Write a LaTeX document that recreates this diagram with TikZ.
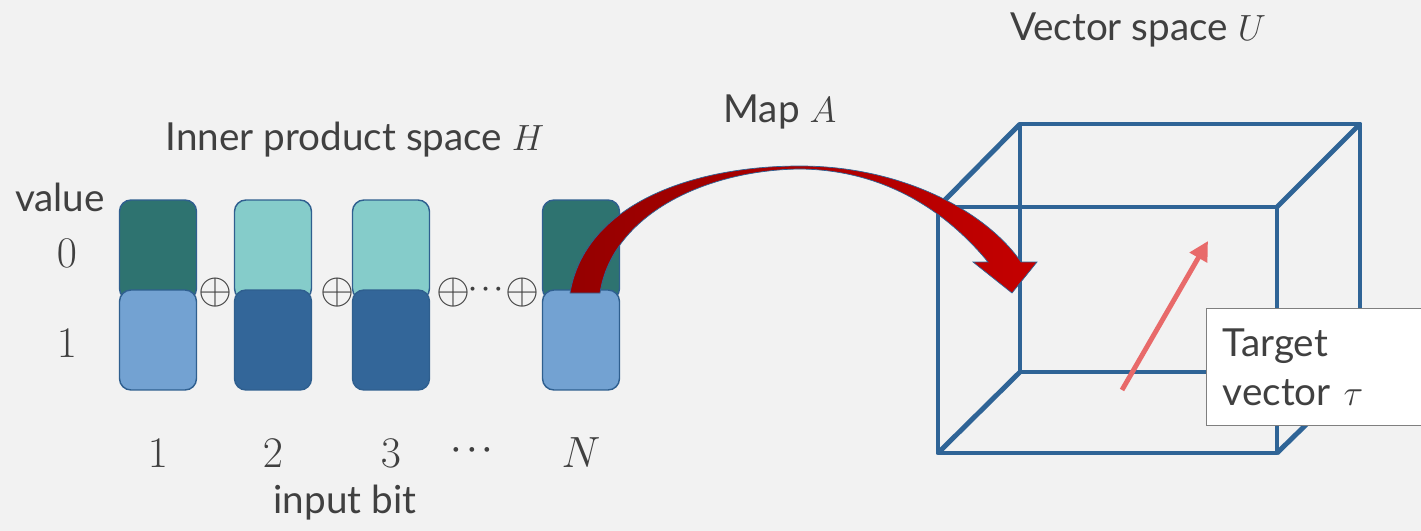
\documentclass[tikz,border=0pt]{standalone}
\usepackage{fontspec}
\setmainfont{Lato}
\usepackage{amsmath}
\usetikzlibrary{arrows.meta,positioning,calc}
\definecolor{bgcol}{HTML}{F2F2F2}
\definecolor{darktext}{HTML}{404040}
\definecolor{tealdark}{HTML}{2E7370}
\definecolor{teallight}{HTML}{85CCCA}
\definecolor{bluelight}{HTML}{73A2D2}
\definecolor{bluedark}{HTML}{336699}
\definecolor{celledge}{HTML}{2F5F8F}
\definecolor{cubeline}{HTML}{2F6496}
\definecolor{vecred}{HTML}{E86A6A}
\definecolor{mapred}{HTML}{C40000}
\definecolor{mapdark}{HTML}{950000}
\definecolor{boxedge}{HTML}{7F7F7F}

\begin{document}
\begin{tikzpicture}[
  x=0.02cm, y=-0.02cm,
  cell/.style={rectangle, rounded corners=6.5pt, draw=celledge, line width=0.8pt,
               minimum width=1.54cm, minimum height=2cm},
  lbl/.style={font=\fontsize{22}{28}\selectfont, text=darktext, inner sep=0pt},
  num/.style={lbl, font=\fontsize{25}{30}\selectfont},
  op/.style={lbl, font=\fontsize{30}{30}\selectfont},
  dots/.style={lbl, font=\fontsize{19}{19}\selectfont\boldmath},
  edge/.style={draw=cubeline, line width=2.8pt, line join=round},
  vec/.style={-{Triangle[length=11pt,width=11pt]}, draw=vecred, line width=2.8pt},
  tag/.style={rectangle, draw=boxedge, fill=white, line width=0.8pt,
              minimum height=2.34cm, text width=4.1cm, align=left,
              inner xsep=0.32cm, font=\fontsize{22}{28}\selectfont, text=darktext},
]
  \useasboundingbox[fill=bgcol] (0,0) rectangle (1421,531);

  % bit columns
  \foreach \x/\tc/\bc/\n [count=\i] in {158/tealdark/bluelight/1, 273/teallight/bluedark/2,
                                        391/teallight/bluedark/3, 581/tealdark/bluelight/N}{
    \node[cell, fill=\tc] (top\i) at (\x,250) {};
    \node[cell, fill=\bc] (bot\i) at (\x,340) {};
    \node[num] (bit\i) at (\x,453) {$\n$};
  }
  \foreach \x [count=\i] in {215,337,453,522}
    \node[op] (op\i) at (\x,293) {$\oplus$};
  \node[dots, font=\fontsize{14}{14}\selectfont\boldmath] (opdots) at (488,290) {$\cdots$};
  \node[dots] (bitdots) at (475,450) {$\cdots$};

  \node[lbl] (value) at (60,197) {value};
  \node[num] (zero) at (67,253) {$0$};
  \node[num] (one) at (67,343) {$1$};
  \node[lbl] (inner) at (355,140) {Inner product space $H$};
  \node[lbl] (inbit) at (345,503) {input bit};

  % cube
  \coordinate (b1) at (1020,124); \coordinate (b2) at (1360,124);
  \coordinate (b3) at (1360,372); \coordinate (b4) at (1020,372);
  \coordinate (f1) at (938,207);  \coordinate (f2) at (1277,207);
  \coordinate (f3) at (1277,453); \coordinate (f4) at (938,453);
  \draw[edge] (b1) -- (b2) -- (b3) -- (b4) -- cycle;
  \draw[edge] (f1) -- (f2) -- (f3) -- (f4) -- cycle;
  \foreach \c in {1,...,4}
    \draw[edge] (f\c) -- (b\c);
  \node[lbl] (vspace) at (1138,30) {Vector space $U$};

  % target vector
  \coordinate (vtail) at (1122,390);
  \coordinate (vhead) at (1208,241);
  \draw[vec] (vtail) -- (vhead);
  \node[tag, anchor=north west] (target) at (1206,308) {Target\\vector $\tau$};

  % map arrow
  \path[left color=mapdark, right color=mapred, draw=cubeline, line width=0.4pt]
    (570,293) .. controls (585,205) and (690,166) .. (800,166)
    .. controls (900,166) and (985,210) .. (1021,262)
    -- (1037,262) -- (1012,293) -- (973,262) -- (988,262)
    .. controls (955,222) and (895,170) .. (800,169)
    .. controls (705,170) and (612,215) .. (600,293) -- cycle;
  \node[lbl] (map) at (780,112) {Map $A$};
\end{tikzpicture}
\end{document}
